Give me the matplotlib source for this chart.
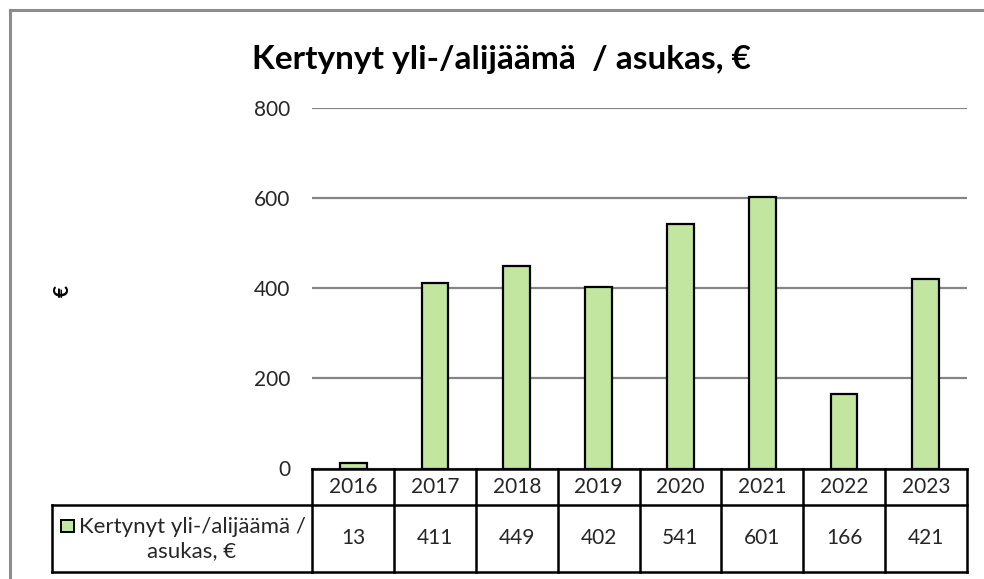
import matplotlib
matplotlib.use("Agg")
import matplotlib.pyplot as plt
import matplotlib.transforms as mtransforms
from matplotlib.lines import Line2D
from matplotlib.patches import Rectangle

plt.rcParams['font.family'] = ['Lato', 'DejaVu Sans']

years = ["2016", "2017", "2018", "2019", "2020", "2021", "2022", "2023"]
values = [13, 411, 449, 402, 541, 601, 166, 421]
title = "Kertynyt yli-/alijäämä  / asukas, €"
series_label = "Kertynyt yli-/alijäämä /\nasukas, €"
y_ticks = [0, 200, 400, 600, 800]

W, H = 984, 579
fig = plt.figure(figsize=(W / 100, H / 100), dpi=100)

ax_left, ax_right = 312.3 / W, 966.7 / W
ax_bottom, ax_top = 1 - 468.5 / H, 1 - 107.5 / H
ax = fig.add_axes([ax_left, ax_bottom, ax_right - ax_left, ax_top - ax_bottom])

green = '#C2E5A0'
txt_color = '#262626'
x = list(range(len(years)))
ax.bar(x, values, width=0.33, color=green, edgecolor='black', linewidth=1.6, zorder=3)

ax.set_xlim(-0.5, len(years) - 0.5)
ax.set_ylim(0, 800)
ax.set_yticks(y_ticks)
ax.set_yticklabels([str(t) for t in y_ticks], fontsize=15, color=txt_color)
ax.set_xticks([])
ax.tick_params(axis='y', length=0, pad=16)
ax.yaxis.grid(True, color='#858585', linewidth=1.6, zorder=0)
ax.set_axisbelow(True)
for s in ax.spines.values():
    s.set_visible(False)

# data table
axpx_h = (ax_top - ax_bottom) * H
y_hdr = -(505 - 468.5) / axpx_h
y_bot = -(571.5 - 468.5) / axpx_h
x_leg = -(312.3 - 52.5) / ((ax_right - ax_left) * W)

blend = mtransforms.blended_transform_factory(ax.transData, ax.transAxes)
lw = 1.8
kw = dict(color='black', linewidth=lw, clip_on=False, zorder=5, solid_capstyle='projecting')
ax.add_line(Line2D([-0.5, len(years) - 0.5], [0, 0], transform=blend, **kw))
ax.add_line(Line2D([-0.5, len(years) - 0.5], [y_bot, y_bot], transform=blend, **kw))
for xi in range(len(years) + 1):
    ax.add_line(Line2D([xi - 0.5, xi - 0.5], [0, y_bot], transform=blend, **kw))
ax.add_line(Line2D([x_leg, 1], [y_hdr, y_hdr], transform=ax.transAxes, **kw))
ax.add_line(Line2D([x_leg, 0], [y_bot, y_bot], transform=ax.transAxes, **kw))
ax.add_line(Line2D([x_leg, x_leg], [y_hdr, y_bot], transform=ax.transAxes, **kw))

for xi, (yr, v) in enumerate(zip(years, values)):
    ax.text(xi, y_hdr / 2, yr, transform=blend, ha='center', va='center',
            fontsize=15, color=txt_color, clip_on=False)
    ax.text(xi, (y_hdr + y_bot) / 2, str(v), transform=blend, ha='center', va='center',
            fontsize=15, color=txt_color, clip_on=False)

# legend cell
fig.text(192 / W, 1 - 539 / H, series_label, ha='center', va='center',
         fontsize=16, color=txt_color, linespacing=1.2)
fig.patches.append(Rectangle((61 / W, 1 - 532 / H), 13 / W, 12 / H, transform=fig.transFigure,
                             facecolor=green, edgecolor='black', linewidth=1.4))

# title and y label
fig.text(501 / W, 1 - 59 / H, title, ha='center', va='center',
         fontsize=24, fontweight='bold', color='black')
fig.text(63 / W, 1 - 291 / H, "€", ha='center', va='center', rotation=90,
         fontsize=15, fontweight='bold', color='black')

# outer chart border
bkw = dict(color='#8c8c8c', linewidth=2.2, transform=fig.transFigure)
fig.add_artist(Line2D([9.5 / W, 9.5 / W], [0, 1 - 10 / H], **bkw))
fig.add_artist(Line2D([9.5 / W, 1], [1 - 10 / H, 1 - 10 / H], **bkw))

fig.savefig("out.png", dpi=100, facecolor='white')
